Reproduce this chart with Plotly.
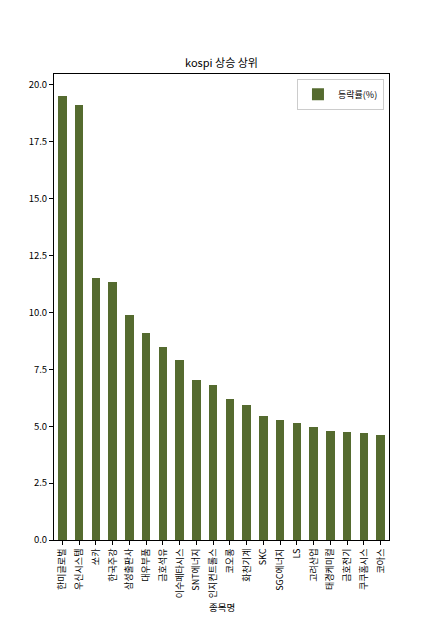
import plotly.graph_objects as go

# kospi top gainers
names = ['한미글로벌', '우신시스템', '쏘카', '한국주강', '삼성출판사', '대우부품', '금호석유',
         '이수페타시스', 'SNT에너지', '인지컨트롤스', '코오롱', '화천기계', 'SKC', 'SGC에너지',
         'LS', '고려산업', '태경케미컬', '금호전기', '쿠쿠홈시스', '코아스']
change_pct = [19.50, 19.11, 11.51, 11.34, 9.88, 9.09, 8.47, 7.90, 7.01, 6.79,
              6.18, 5.91, 5.47, 5.29, 5.12, 4.98, 4.81, 4.76, 4.72, 4.63]
y_ticks = [0.0, 2.5, 5.0, 7.5, 10.0, 12.5, 15.0, 17.5, 20.0]

FONT = 'Noto Sans CJK KR, DejaVu Sans, sans-serif'

# page body has an 8px margin, so the figure is drawn 8px smaller and offset
W, H = 424, 609

fig = go.Figure()
fig.add_trace(go.Bar(x=list(range(len(names))), y=change_pct, name='등락률(%)',
                     marker=dict(color='#556B2F', line=dict(width=0)), width=0.5))

fig.update_layout(
    width=W, height=H,
    margin=dict(l=46, r=43, t=66, b=77),
    plot_bgcolor='white', paper_bgcolor='white',
    font=dict(family=FONT, size=10, color='black'),
    title=dict(text='kospi 상승 상위', x=(46 + W - 43) / 2 / W, xanchor='center',
               y=1 - 55 / H, yanchor='middle', yref='container',
               font=dict(size=11, color='black')),
    showlegend=True,
    legend=dict(x=0.985, y=0.99, xanchor='right', yanchor='top',
                bordercolor='#cccccc', borderwidth=1, bgcolor='white',
                font=dict(size=9), tracegroupgap=0, itemwidth=30),
    bargap=0,
)

fig.update_xaxes(
    range=[-0.5, len(names) - 0.5],
    tickmode='array', tickvals=list(range(len(names))), ticktext=names,
    tickangle=-90, ticks='outside', ticklen=4, tickcolor='black',
    tickfont=dict(size=9),
    showline=True, linecolor='black', linewidth=1, mirror=True,
    showgrid=False, zeroline=False, automargin=False,
)
fig.update_yaxes(
    range=[0, max(change_pct) * 1.05],
    tickmode='array', tickvals=y_ticks, ticktext=[f'{v:.1f}' for v in y_ticks],
    ticks='outside', ticklen=4, tickcolor='black',
    tickfont=dict(size=9.5),
    showline=True, linecolor='black', linewidth=1, mirror=True,
    showgrid=False, zeroline=False, automargin=False,
)

# x axis label
fig.add_annotation(text='종목명', xref='paper', yref='paper', x=0.5, y=-(599 - 532) / 466,
                   xanchor='center', yanchor='middle', showarrow=False,
                   font=dict(size=9.5, color='black'))

fig.write_html("out.html")
